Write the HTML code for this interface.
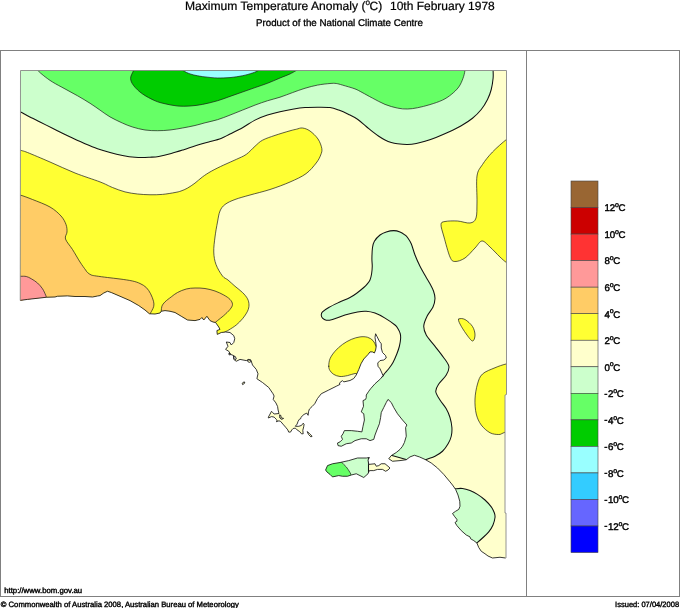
<!DOCTYPE html>
<html><head><meta charset="utf-8"><title>Maximum Temperature Anomaly</title>
<style>
html,body{margin:0;padding:0;background:#fff;}
body{width:680px;height:608px;overflow:hidden;position:relative;font-family:"Liberation Sans",Arial,sans-serif;}
svg{position:absolute;left:0;top:0;will-change:transform;}
text{font-family:"Liberation Sans",Arial,sans-serif;fill:#000;text-rendering:geometricPrecision;}
.ti{font-size:12px;stroke:#000;stroke-width:0.22px;}
.st{font-size:9.75px;stroke:#000;stroke-width:0.3px;}
.lg{font-size:9.7px;stroke:#000;stroke-width:0.42px;}
.ft{font-size:7.75px;stroke:#000;stroke-width:0.38px;}
</style></head><body>
<svg width="680" height="608" viewBox="0 0 680 608">
<rect x="0" y="0" width="680" height="608" fill="#fff"/>
<defs><clipPath id="land"><path d="M20.25 300.4 L27.5 299.4 L40 298 L46.25 297.25 L55 297 L57.5 296.25 L67.5 295.9 L75 296.5 L85 296.5 L92.5 297 L97.5 296 L100 295.6 L103.75 293 L107.5 291.25 L111.25 292.5 L120 296.25 L130 300.6 L138.75 305.6 L145 310 L149.4 313.75 L155 314 L160 313 L161.25 311.25 L165 310.6 L170 311.25 L175 312.5 L181.25 316.25 L187.5 320 L195 320.6 L200 319.4 L201.9 317.5 L203.75 320 L206.9 316.25 L210 320.6 L213 322 L215.6 322.5 L218.75 327 L220 329.4 L216.9 330.6 L217.25 334.4 L221.25 332.5 L225.6 332 L230 332.5 L233.75 335.6 L234.75 338.75 L233.75 342.5 L231.25 345 L230 342.5 L226.25 342 L228 346.25 L225.6 349.4 L228.75 351.25 L230.6 354.4 L233.75 355.6 L233.75 359.4 L236.25 361.25 L240 359.4 L246.25 360.6 L248.75 359.4 L251.25 361.25 L252.5 365 L256.25 369.4 L258 373.75 L256.9 378.75 L262.5 382.5 L268.75 387.5 L273 393.75 L274.1 396 L273.2 399.4 L275.9 402.9 L277.6 406.5 L278.1 410 L279 413.5 L274.1 414 L272.4 412.2 L271.5 411.3 L270.1 414 L268.4 417.1 L268.4 418 L271.5 416.6 L274.1 417.1 L276.3 419.3 L277.2 421 L276.3 421.7 L279 420.8 L280.7 421.5 L282.9 424.1 L285.6 427.2 L287.8 429.9 L288.7 432.1 L290.5 432.1 L291.8 429.9 L293.1 428.5 L295.3 428.1 L297.1 429.9 L299.7 431.6 L301.5 433.8 L303.2 433.8 L302.8 430.3 L303.7 426.8 L304.1 424.1 L303.2 423.2 L301.5 425.4 L298.8 426.3 L295.3 426.3 L297.1 424.1 L298 421.5 L299.3 419.3 L300.6 418.8 L301 417.5 L302.4 415.7 L304.1 414.4 L306.8 413.1 L308.1 415.3 L308.5 411.8 L309.4 409.1 L312.1 406.5 L314.7 403.8 L317.5 398.5 L321.25 393.75 L328.75 390 L336.25 386.25 L340 384.4 L339.4 383 L342.5 380.6 L343.75 381.9 L350 380.5 L353.75 378.5 L356.25 375 L358.75 369.5 L361 363.75 L363.75 359 L368 354.5 L370 351.9 L372.5 351.9 L374.4 353 L375.6 350 L376.25 346.25 L375.6 341.25 L375 337.5 L375.6 333.75 L376.9 336.25 L379.4 341.25 L381.25 343.75 L381.25 348 L382.5 352.5 L385.6 355.6 L386.25 358 L383.75 360 L380 360.6 L377.75 363 L378 366.25 L380 368.75 L381.9 373 L383 375.6 L380.6 378.75 L375 383.75 L370.6 388.75 L368.75 391.25 L366.25 395 L366.25 397.5 L365.6 399.4 L363 400.6 L363.5 406.25 L361.25 411.9 L363.75 413.75 L364.4 420 L363 426.25 L361.9 431.9 L357.5 431.25 L351.25 430.6 L344.4 430.6 L343 433.75 L341.25 436.25 L342.5 439.4 L340 441.9 L337.5 443 L338 445.6 L341.25 446.25 L346.25 443.75 L351.25 443 L355 440.6 L361.25 438.75 L366.25 438.75 L370 440.6 L373.75 439.4 L375 435 L376.9 430 L379.4 423.75 L380.6 417.5 L381.25 412.5 L383.75 407.5 L386.25 402.5 L388 399.4 L391.25 402.5 L393.75 407.5 L397.5 413.75 L402.5 420 L406.9 425 L405.6 427.5 L406.25 436.25 L404.4 442.5 L402.5 446.25 L400 449.4 L396.25 452.5 L391.25 455.6 L388.75 458.75 L392.5 461.25 L400 460.6 L406.25 459.75 L410 456.9 L414.4 455.25 L419.4 456.9 L425 459.4 L431.25 463 L437.5 468 L443.75 474.4 L450 481.9 L452.5 485 L455.6 489.4 L458 495 L459.75 501.25 L460 506.25 L458.75 509.4 L455.6 511.25 L452.5 513.5 L454.4 516.25 L456.9 519.4 L456.9 521.25 L455 522.5 L456.9 525.6 L461.25 530.6 L466.25 535 L470 536.9 L470.6 538.75 L473.75 540.6 L476.9 543 L478.75 547.5 L481.25 551.25 L485 553.75 L488 556 L492.5 558 L500 557.25 L505.5 558 L506 558 L506 513 L505 513 L505 395 L506.5 394.5 L506.5 70.5 L20.5 70.5 Z M242 384 L243 382.3 L244.8 382 L244.3 383.6 L242.6 384.6 Z M307.2 431.6 L309.4 433.4 L312.1 436.3 L310.9 436.9 L308.5 434.5 Z M233.6 356 L235.4 356.6 L236.3 359 L235 359.6 L233.8 358.2 Z M247.6 360 L250.5 359.6 L251.3 361.4 L249.4 362.4 L247.8 361.6 Z M228.8 353.4 L230.2 353.6 L230.4 354.8 L229 354.8 Z"/></clipPath><clipPath id="ki"><path d="M325.6 470 L327.5 465.6 L332.5 463.75 L340 462.5 L348.75 460.6 L357.5 458 L366.25 458 L369.4 457.5 L368 460 L368.75 464.4 L375 463.75 L376.25 466.25 L378.75 465.6 L381.25 463.75 L385 463.75 L388 466.25 L390 468 L388 470 L385.6 471.25 L382.5 469.4 L377.5 469.4 L373.75 470.6 L369.4 470.6 L368 473.75 L363.75 477.5 L360 475.6 L356.25 473.75 L351.25 475 L347.5 476.25 L342.5 476.25 L338.75 475.6 L332.5 476.9 L330 474.4 L326.9 471.9 Z"/></clipPath></defs>
<g clip-path="url(#land)" stroke-linejoin="round" stroke-linecap="round">
<rect x="0" y="60" width="520" height="510" fill="#ffffcc"/>
<path d="M8 105.5 C10.1 106.58 17.35 110.29 20.6 112 C23.85 113.71 24.27 114.08 27.5 115.75 C30.73 117.42 35.83 119.92 40 122 C44.17 124.08 48.33 126.17 52.5 128.25 C56.67 130.33 61.67 132.86 65 134.5 C68.33 136.14 69.17 136.56 72.5 138.1 C75.83 139.64 80.83 141.97 85 143.75 C89.17 145.53 93.33 147.29 97.5 148.75 C101.67 150.21 105.83 151.39 110 152.5 C114.17 153.61 118.33 154.61 122.5 155.4 C126.67 156.19 131.25 156.9 135 157.25 C138.75 157.6 142.5 157.5 145 157.5 C147.5 157.5 147.71 157.43 150 157.25 C152.29 157.07 155.21 157.03 158.75 156.4 C162.29 155.78 167.08 154.62 171.25 153.5 C175.42 152.38 179.58 151.03 183.75 149.7 C187.92 148.37 192.08 146.78 196.25 145.5 C200.42 144.22 204.62 143.18 208.75 142 C212.88 140.82 217.46 139.73 221 138.4 C224.54 137.07 226.42 135.78 230 134 C233.58 132.22 238.33 130.02 242.5 127.7 C246.67 125.38 250.83 122.2 255 120.1 C259.17 118 263.33 116.5 267.5 115.1 C271.67 113.7 275.83 112.67 280 111.7 C284.17 110.73 288.33 109.93 292.5 109.25 C296.67 108.57 300.83 107.93 305 107.6 C309.17 107.27 313.33 107.25 317.5 107.25 C321.67 107.25 326.46 107.12 330 107.6 C333.54 108.07 335.62 108.95 338.75 110.1 C341.88 111.25 345.62 112.97 348.75 114.5 C351.88 116.03 354.58 117.3 357.5 119.3 C360.42 121.3 363.75 124.43 366.25 126.5 C368.75 128.57 370.42 130.07 372.5 131.7 C374.58 133.32 376.67 134.87 378.75 136.25 C380.83 137.63 382.92 138.96 385 140 C387.08 141.04 389.17 141.88 391.25 142.5 C393.33 143.12 394.79 143.43 397.5 143.75 C400.21 144.07 404.38 144.44 407.5 144.4 C410.62 144.36 413.33 144.03 416.25 143.5 C419.17 142.97 421.71 142.27 425 141.25 C428.29 140.23 432.04 138.94 436 137.4 C439.96 135.86 444.54 133.94 448.75 132 C452.96 130.06 457.29 128.04 461.25 125.75 C465.21 123.46 469.17 120.96 472.5 118.25 C475.83 115.54 478.75 112.62 481.25 109.5 C483.75 106.38 485.83 102.83 487.5 99.5 C489.17 96.17 490.32 93.04 491.25 89.5 C492.18 85.96 492.79 81.5 493.1 78.25 C493.41 75 493.12 73.38 493.1 70 C493.08 66.62 493.02 60 493 58 L493 50 L8 50 Z" fill="#ccffcc" stroke="#111" stroke-width="1.05"/>
<path d="M31 62 C32.08 63.35 35.38 67.81 37.5 70.1 C39.62 72.39 41.25 73.77 43.75 75.75 C46.25 77.73 48.96 79.81 52.5 82 C56.04 84.19 60.83 86.61 65 88.9 C69.17 91.19 73.33 93.36 77.5 95.75 C81.67 98.14 86.25 100.86 90 103.25 C93.75 105.64 96.67 107.82 100 110.1 C103.33 112.38 106.25 114.73 110 116.9 C113.75 119.07 118.75 121.42 122.5 123.1 C126.25 124.78 128.75 125.85 132.5 127 C136.25 128.15 140.83 129.38 145 130 C149.17 130.62 153.33 130.7 157.5 130.7 C161.67 130.7 165.83 130.45 170 130 C174.17 129.55 178.33 128.75 182.5 128 C186.67 127.25 191.25 126.37 195 125.5 C198.75 124.63 201.25 123.77 205 122.8 C208.75 121.83 213.33 120.98 217.5 119.7 C221.67 118.42 225.83 116.7 230 115.1 C234.17 113.5 238.33 111.77 242.5 110.1 C246.67 108.43 250.83 106.66 255 105.1 C259.17 103.54 263.33 102.07 267.5 100.75 C271.67 99.43 275.83 98.56 280 97.2 C284.17 95.84 288.33 94.09 292.5 92.6 C296.67 91.11 300.83 89.5 305 88.25 C309.17 87 313.33 85.89 317.5 85.1 C321.67 84.31 326.88 83.77 330 83.5 C333.12 83.23 334.17 83.23 336.25 83.5 C338.33 83.77 339.38 84.2 342.5 85.1 C345.62 86 351.75 87.68 355 88.9 C358.25 90.12 359.08 90.87 362 92.4 C364.92 93.93 368.67 96.1 372.5 98.1 C376.33 100.1 380.83 102.73 385 104.4 C389.17 106.07 393.75 107.33 397.5 108.1 C401.25 108.87 404.17 109.06 407.5 109 C410.83 108.94 413.75 108.48 417.5 107.75 C421.25 107.02 425.83 105.88 430 104.6 C434.17 103.32 438.96 101.78 442.5 100.1 C446.04 98.42 448.54 96.68 451.25 94.5 C453.96 92.32 456.79 89.71 458.75 87 C460.71 84.29 461.96 81.07 463 78.25 C464.04 75.43 464.5 73.47 465 70.1 C465.5 66.72 465.83 60.02 466 58 L466 50 L31 50 Z" fill="#66ff66" stroke="#1a1a1a" stroke-width="0.7"/>
<path d="M139 58 C138.12 60.02 135.15 66.72 133.75 70.1 C132.35 73.47 130.6 75.64 130.6 78.25 C130.6 80.86 131.77 83.14 133.75 85.75 C135.73 88.36 138.96 91.4 142.5 93.9 C146.04 96.4 151.25 99.11 155 100.75 C158.75 102.39 161.25 102.88 165 103.75 C168.75 104.62 173.33 105.62 177.5 106 C181.67 106.38 185.83 106.27 190 106 C194.17 105.73 197.92 105.28 202.5 104.4 C207.08 103.53 212.92 102.08 217.5 100.75 C222.08 99.42 225.83 97.86 230 96.4 C234.17 94.94 238.33 93.47 242.5 92 C246.67 90.53 250.83 89.06 255 87.6 C259.17 86.14 263.33 84.85 267.5 83.25 C271.67 81.65 276.25 79.56 280 78 C283.75 76.44 287.18 75.22 290 73.9 C292.82 72.58 292.9 72.42 296.9 70.1 C300.9 67.78 311.15 61.68 314 60 L314 50 L139 50 Z" fill="#00cc00" stroke="#1a1a1a" stroke-width="0.7"/>
<path d="M170 60 C172.08 61.68 179.17 67.78 182.5 70.1 C185.83 72.42 187.5 72.96 190 73.9 C192.5 74.84 195 75.25 197.5 75.75 C200 76.25 201.67 76.53 205 76.9 C208.33 77.28 213.33 77.88 217.5 78 C221.67 78.12 225.83 77.97 230 77.6 C234.17 77.22 238.75 76.52 242.5 75.75 C246.25 74.98 249.79 73.94 252.5 73 C255.21 72.06 255.83 71.93 258.75 70.1 C261.67 68.27 268.12 63.35 270 62 L270 50 L170 50 Z" fill="#99ffff" stroke="#1a1a1a" stroke-width="0.7"/>
<path d="M8 145 C10 145.83 16.75 148.75 20 150 C23.25 151.25 22.5 150.5 27.5 152.5 C32.5 154.5 42.08 158.58 50 162 C57.92 165.42 66.67 169.68 75 173 C83.33 176.32 93.75 179.48 100 181.9 C106.25 184.32 108.33 185.83 112.5 187.5 C116.67 189.17 120.83 190.82 125 191.9 C129.17 192.98 133.33 193.53 137.5 194 C141.67 194.47 145.83 194.68 150 194.75 C154.17 194.82 158.33 194.78 162.5 194.4 C166.67 194.03 171.92 193.07 175 192.5 C178.08 191.93 178.92 191.73 181 191 C183.08 190.27 185.17 189.42 187.5 188.1 C189.83 186.78 192.5 184.97 195 183.1 C197.5 181.23 199.79 178.88 202.5 176.9 C205.21 174.93 207.71 173.23 211.25 171.25 C214.79 169.27 219.58 166.97 223.75 165 C227.92 163.03 232.5 161.17 236.25 159.4 C240 157.63 243.12 156.59 246.25 154.4 C249.38 152.21 252.29 148.62 255 146.25 C257.71 143.88 259.17 142.01 262.5 140.2 C265.83 138.39 270.42 136.97 275 135.4 C279.58 133.83 286.42 131.83 290 130.8 C293.58 129.77 294.42 129.67 296.5 129.2 C298.58 128.73 300.25 127.7 302.5 128 C304.75 128.3 307.42 129.17 310 131 C312.58 132.83 316.03 136.08 318 139 C319.97 141.92 321.35 145.83 321.8 148.5 C322.25 151.17 321.63 152.58 320.7 155 C319.77 157.42 318.65 159.88 316.2 163 C313.75 166.12 310.37 170.53 306 173.7 C301.63 176.87 296 179.37 290 182 C284 184.63 276.67 187.33 270 189.5 C263.33 191.67 255.83 193.33 250 195 C244.17 196.67 239.17 197.92 235 199.5 C230.83 201.08 227.5 202.58 225 204.5 C222.5 206.42 221.25 208.08 220 211 C218.75 213.92 218.33 217.67 217.5 222 C216.67 226.33 215.62 232 215 237 C214.38 242 213.58 247.42 213.75 252 C213.92 256.58 214.54 260.5 216 264.5 C217.46 268.5 220.5 273.42 222.5 276 C224.5 278.58 225.92 278.29 228 280 C230.08 281.71 232.58 284.17 235 286.25 C237.42 288.33 240.42 290.42 242.5 292.5 C244.58 294.58 246.42 296.67 247.5 298.75 C248.58 300.83 249 302.92 249 305 C249 307.08 248.58 308.96 247.5 311.25 C246.42 313.54 244.38 316.46 242.5 318.75 C240.62 321.04 238.54 323.12 236.25 325 C233.96 326.88 230.62 328.83 228.75 330 C226.88 331.17 227.46 330.67 225 332 C222.54 333.33 215.83 337 214 338 L214 345 L8 345 Z" fill="#ffff33" stroke="#1a1a1a" stroke-width="0.7"/>
<path d="M8 192.5 C10 192.92 15.92 193.83 20 195 C24.08 196.17 27.5 197.5 32.5 199.5 C37.5 201.5 45.25 204.25 50 207 C54.75 209.75 58.33 213.08 61 216 C63.67 218.92 65 221.83 66 224.5 C67 227.17 67.08 229.58 67 232 C66.92 234.42 64.58 236.08 65.5 239 C66.42 241.92 70.08 245.67 72.5 249.5 C74.92 253.33 77.82 258.58 80 262 C82.18 265.42 84.35 268.25 85.6 270 C86.85 271.75 86.56 271.67 87.5 272.5 C88.44 273.33 89.79 274.42 91.25 275 C92.71 275.58 93.54 275.58 96.25 276 C98.96 276.42 103.54 277 107.5 277.5 C111.46 278 115.83 278.42 120 279 C124.17 279.58 129.17 280.25 132.5 281 C135.83 281.75 137.71 282.42 140 283.5 C142.29 284.58 144.48 285.79 146.25 287.5 C148.02 289.21 149.39 291.46 150.6 293.75 C151.81 296.04 152.97 299.17 153.5 301.25 C154.03 303.33 154.02 304.69 153.75 306.25 C153.48 307.81 152.53 309.31 151.9 310.6 C151.28 311.89 150.82 312.27 150 314 C149.18 315.73 147.5 319.83 147 321 L147 330 L8 330 Z" fill="#ffcc66" stroke="#1a1a1a" stroke-width="0.7"/>
<path d="M8 276 C10 276.04 16.96 276.17 20 276.25 C23.04 276.33 24.38 276.08 26.25 276.5 C28.12 276.92 29.38 277.67 31.25 278.75 C33.12 279.83 35.62 281.33 37.5 283 C39.38 284.67 41.15 286.75 42.5 288.75 C43.85 290.75 44.98 293.58 45.6 295 C46.23 296.42 46.08 295.75 46.25 297.25 C46.42 298.75 46.54 302.88 46.6 304 L46.6 310 L8 310 Z" fill="#ff9999" stroke="#1a1a1a" stroke-width="0.7"/>
<path d="M160 319 C160.21 317.71 160.93 313.38 161.25 311.25 C161.57 309.12 161.28 307.81 161.9 306.25 C162.53 304.69 163.44 303.46 165 301.9 C166.56 300.34 169.17 298.47 171.25 296.9 C173.33 295.33 175 293.82 177.5 292.5 C180 291.18 183.33 289.75 186.25 289 C189.17 288.25 191.88 288.08 195 288 C198.12 287.92 201.67 288 205 288.5 C208.33 289 211.88 289.92 215 291 C218.12 292.08 221.25 293.6 223.75 295 C226.25 296.4 228.54 297.83 230 299.4 C231.46 300.97 232.5 302.73 232.5 304.4 C232.5 306.07 231.46 307.53 230 309.4 C228.54 311.27 225.83 313.73 223.75 315.6 C221.67 317.47 219.62 318.87 217.5 320.6 C215.38 322.33 212.08 325.1 211 326 L211 332 L160 332 Z" fill="#ffcc66" stroke="#1a1a1a" stroke-width="0.7"/>
<path d="M520 130 C517.83 131.5 511.58 135.33 507 139 C502.42 142.67 496.58 147.75 492.5 152 C488.42 156.25 485.08 160.5 482.5 164.5 C479.92 168.5 477.92 169.75 477 176 C476.08 182.25 477.17 195 477 202 C476.83 209 477.17 214.5 476 218 C474.83 221.5 473.08 222.5 470 223 C466.92 223.5 461.67 221.25 457.5 221 C453.33 220.75 447.75 220.92 445 221.5 C442.25 222.08 441.17 221.92 441 224.5 C440.83 227.08 442.5 231.58 444 237 C445.5 242.42 448.17 252.92 450 257 C451.83 261.08 452.5 261.33 455 261.5 C457.5 261.67 461.67 260.25 465 258 C468.33 255.75 472.17 250.83 475 248 C477.83 245.17 479.5 241.17 482 241 C484.5 240.83 487 244.33 490 247 C493 249.67 497.17 254.33 500 257 C502.83 259.67 503.67 260.5 507 263 C510.33 265.5 517.83 270.5 520 272 Z" fill="#ffff33" stroke="#1a1a1a" stroke-width="0.7"/>
<path d="M520 361 C517.67 361.5 510.17 362.88 506 364 C501.83 365.12 498.92 366.08 495 367.75 C491.08 369.42 485.42 371.29 482.5 374 C479.58 376.71 478.75 379.83 477.5 384 C476.25 388.17 475.21 394 475 399 C474.79 404 475.21 409.67 476.25 414 C477.29 418.33 478.96 421.88 481.25 425 C483.54 428.12 487.08 431.17 490 432.75 C492.92 434.33 496.46 434.5 498.75 434.5 C501.04 434.5 500.21 434.17 503.75 432.75 C507.29 431.33 517.29 427.12 520 426 Z" fill="#ffff33" stroke="#1a1a1a" stroke-width="0.7"/>
<path d="M458.75 319 C459.58 318.25 462.71 318.25 465 319.5 C467.29 320.75 470.83 323.92 472.5 326.5 C474.17 329.08 475 332.58 475 335 C475 337.42 473.96 341.17 472.5 341 C471.04 340.83 468.33 336.83 466.25 334 C464.17 331.17 461.25 326.5 460 324 C458.75 321.5 457.92 319.75 458.75 319 Z" fill="#ffff33" stroke="#1a1a1a" stroke-width="0.7"/>
<path d="M383 376 C383.23 375.62 383.44 374.96 384.4 373.75 C385.36 372.54 387.32 370.62 388.75 368.75 C390.18 366.88 391.64 365 393 362.5 C394.36 360 395.83 356.46 396.9 353.75 C397.97 351.04 398.78 348.75 399.4 346.25 C400.02 343.75 400.46 340.83 400.6 338.75 C400.74 336.67 400.68 335.42 400.25 333.75 C399.82 332.08 398.88 330.21 398 328.75 C397.12 327.29 397.17 326.77 395 325 C392.83 323.23 388.33 320.08 385 318.1 C381.67 316.12 378.12 314.24 375 313.1 C371.88 311.96 369.17 311.45 366.25 311.25 C363.33 311.05 361.04 311.27 357.5 311.9 C353.96 312.52 349.17 313.75 345 315 C340.83 316.25 335.62 318.52 332.5 319.4 C329.38 320.27 327.92 320.47 326.25 320.25 C324.58 320.03 323.33 318.98 322.5 318.1 C321.67 317.23 321.25 316.03 321.25 315 C321.25 313.97 321.25 313.15 322.5 311.9 C323.75 310.65 326.04 309.07 328.75 307.5 C331.46 305.93 335.21 304.17 338.75 302.5 C342.29 300.83 346.96 299.08 350 297.5 C353.04 295.92 354.71 294.67 357 293 C359.29 291.33 362.1 288.93 363.75 287.5 C365.4 286.07 365.86 285.65 366.9 284.4 C367.94 283.15 369.22 281.77 370 280 C370.78 278.23 371.23 276.04 371.6 273.75 C371.98 271.46 372.2 268.75 372.25 266.25 C372.3 263.75 371.86 261.88 371.9 258.75 C371.94 255.62 372.08 250.42 372.5 247.5 C372.92 244.58 373.15 243.33 374.4 241.25 C375.65 239.17 378.02 236.56 380 235 C381.98 233.44 383.96 232.63 386.25 231.9 C388.54 231.17 391.46 230.6 393.75 230.6 C396.04 230.6 398.12 231.17 400 231.9 C401.88 232.63 403.75 234.07 405 235 C406.25 235.93 406.46 236.04 407.5 237.5 C408.54 238.96 410 240.83 411.25 243.75 C412.5 246.67 413.54 251.25 415 255 C416.46 258.75 418.12 262.5 420 266.25 C421.88 270 424.58 274.58 426.25 277.5 C427.92 280.42 428.79 281.5 430 283.75 C431.21 286 432.67 288.54 433.5 291 C434.33 293.46 435.08 295.83 435 298.5 C434.92 301.17 434.28 304.12 433 307 C431.72 309.88 428.84 312.63 427.3 315.8 C425.76 318.97 423.93 322.8 423.75 326 C423.57 329.2 424.46 331.73 426.25 335 C428.04 338.27 431.64 341.9 434.5 345.6 C437.36 349.3 441 353.72 443.4 357.2 C445.8 360.68 448.42 363.53 448.9 366.5 C449.38 369.47 447.94 372.08 446.25 375 C444.56 377.92 440.5 381.25 438.75 384 C437 386.75 435.54 388.83 435.75 391.5 C435.96 394.17 438.25 397.12 440 400 C441.75 402.88 444.58 405.83 446.25 408.75 C447.92 411.67 449.06 414.38 450 417.5 C450.94 420.62 451.69 424.38 451.9 427.5 C452.11 430.62 451.88 433.54 451.25 436.25 C450.62 438.96 449.56 441.25 448.1 443.75 C446.64 446.25 444.68 449.17 442.5 451.25 C440.32 453.33 437.71 454.88 435 456.25 C432.29 457.62 429.08 458.38 426.25 459.5 C423.42 460.62 419.38 462.42 418 463 L418 470 L330 470 L330 430 L340 400 L357 386 L366 380.5 L374 378.2 L380 378 Z" fill="#ccffcc" stroke="#111" stroke-width="1.05"/>
<path d="M328.75 366.25 C328.75 364.27 328.96 361.25 330 358.75 C331.04 356.25 332.92 353.64 335 351.25 C337.08 348.86 339.79 346.38 342.5 344.4 C345.21 342.42 348.33 340.65 351.25 339.4 C354.17 338.15 357.29 337.26 360 336.9 C362.71 336.54 365.33 336.63 367.5 337.25 C369.67 337.87 371.58 339.1 373 340.6 C374.42 342.1 375.17 344.18 376 346.25 C376.83 348.32 378.5 350.71 378 353 C377.5 355.29 375 357.5 373 360 C371 362.5 368.17 365.67 366 368 C363.83 370.33 361.83 373.08 360 374 C358.17 374.92 357.08 373.23 355 373.5 C352.92 373.77 350 375.1 347.5 375.6 C345 376.1 342.29 376.7 340 376.5 C337.71 376.3 335.42 375.38 333.75 374.4 C332.08 373.42 330.83 371.96 330 370.6 C329.17 369.24 328.75 368.23 328.75 366.25 Z" fill="#ffff33" stroke="#1a1a1a" stroke-width="0.7"/>
<path d="M448 490 C449.27 489.79 453.18 489 455.6 488.75 C458.02 488.5 460.1 488.19 462.5 488.5 C464.9 488.81 467.5 489.62 470 490.6 C472.5 491.58 475 492.83 477.5 494.4 C480 495.97 482.71 497.92 485 500 C487.29 502.08 489.68 504.73 491.25 506.9 C492.82 509.07 493.77 511.23 494.4 513 C495.02 514.77 495.23 515.5 495 517.5 C494.77 519.5 494.04 522.6 493 525 C491.96 527.4 490.5 529.73 488.75 531.9 C487 534.07 484.48 536.17 482.5 538 C480.52 539.83 479.15 541.07 476.9 542.9 C474.65 544.73 470.32 547.98 469 549 L469 556 L440 556 L440 490 Z" fill="#ccffcc" stroke="#111" stroke-width="1.05"/>
<path d="M384 453.4 L392 455.6 L400 457.8 L407 459.75 L414 461.5 L414 468 L384 468 Z" fill="#ffffcc" stroke="#111" stroke-width="1.05"/>
</g>
<g clip-path="url(#ki)" stroke-linejoin="round">
<rect x="320" y="454" width="48.5" height="28" fill="#ccffcc"/>
<rect x="368.5" y="454" width="30" height="28" fill="#ffffcc"/>
<path d="M368.5 454 V482" fill="none" stroke="#111" stroke-width="1.05"/>
<path d="M340.5 458 C340.73 458.75 340.94 461.02 341.9 462.5 C342.86 463.98 344.9 465.23 346.25 466.9 C347.6 468.57 349.17 471.05 350 472.5 C350.83 473.95 350.92 474.35 351.25 475.6 C351.58 476.85 351.88 479.27 352 480 L320 480 L320 455 Z" fill="#66ff66" stroke="#1a1a1a" stroke-width="0.7"/>
</g>
<path d="M20.25 300.4 L27.5 299.4 L40 298 L46.25 297.25 L55 297 L57.5 296.25 L67.5 295.9 L75 296.5 L85 296.5 L92.5 297 L97.5 296 L100 295.6 L103.75 293 L107.5 291.25 L111.25 292.5 L120 296.25 L130 300.6 L138.75 305.6 L145 310 L149.4 313.75 L155 314 L160 313 L161.25 311.25 L165 310.6 L170 311.25 L175 312.5 L181.25 316.25 L187.5 320 L195 320.6 L200 319.4 L201.9 317.5 L203.75 320 L206.9 316.25 L210 320.6 L213 322 L215.6 322.5 L218.75 327 L220 329.4 L216.9 330.6 L217.25 334.4 L221.25 332.5 L225.6 332 L230 332.5 L233.75 335.6 L234.75 338.75 L233.75 342.5 L231.25 345 L230 342.5 L226.25 342 L228 346.25 L225.6 349.4 L228.75 351.25 L230.6 354.4 L233.75 355.6 L233.75 359.4 L236.25 361.25 L240 359.4 L246.25 360.6 L248.75 359.4 L251.25 361.25 L252.5 365 L256.25 369.4 L258 373.75 L256.9 378.75 L262.5 382.5 L268.75 387.5 L273 393.75 L274.1 396 L273.2 399.4 L275.9 402.9 L277.6 406.5 L278.1 410 L279 413.5 L274.1 414 L272.4 412.2 L271.5 411.3 L270.1 414 L268.4 417.1 L268.4 418 L271.5 416.6 L274.1 417.1 L276.3 419.3 L277.2 421 L276.3 421.7 L279 420.8 L280.7 421.5 L282.9 424.1 L285.6 427.2 L287.8 429.9 L288.7 432.1 L290.5 432.1 L291.8 429.9 L293.1 428.5 L295.3 428.1 L297.1 429.9 L299.7 431.6 L301.5 433.8 L303.2 433.8 L302.8 430.3 L303.7 426.8 L304.1 424.1 L303.2 423.2 L301.5 425.4 L298.8 426.3 L295.3 426.3 L297.1 424.1 L298 421.5 L299.3 419.3 L300.6 418.8 L301 417.5 L302.4 415.7 L304.1 414.4 L306.8 413.1 L308.1 415.3 L308.5 411.8 L309.4 409.1 L312.1 406.5 L314.7 403.8 L317.5 398.5 L321.25 393.75 L328.75 390 L336.25 386.25 L340 384.4 L339.4 383 L342.5 380.6 L343.75 381.9 L350 380.5 L353.75 378.5 L356.25 375 L358.75 369.5 L361 363.75 L363.75 359 L368 354.5 L370 351.9 L372.5 351.9 L374.4 353 L375.6 350 L376.25 346.25 L375.6 341.25 L375 337.5 L375.6 333.75 L376.9 336.25 L379.4 341.25 L381.25 343.75 L381.25 348 L382.5 352.5 L385.6 355.6 L386.25 358 L383.75 360 L380 360.6 L377.75 363 L378 366.25 L380 368.75 L381.9 373 L383 375.6 L380.6 378.75 L375 383.75 L370.6 388.75 L368.75 391.25 L366.25 395 L366.25 397.5 L365.6 399.4 L363 400.6 L363.5 406.25 L361.25 411.9 L363.75 413.75 L364.4 420 L363 426.25 L361.9 431.9 L357.5 431.25 L351.25 430.6 L344.4 430.6 L343 433.75 L341.25 436.25 L342.5 439.4 L340 441.9 L337.5 443 L338 445.6 L341.25 446.25 L346.25 443.75 L351.25 443 L355 440.6 L361.25 438.75 L366.25 438.75 L370 440.6 L373.75 439.4 L375 435 L376.9 430 L379.4 423.75 L380.6 417.5 L381.25 412.5 L383.75 407.5 L386.25 402.5 L388 399.4 L391.25 402.5 L393.75 407.5 L397.5 413.75 L402.5 420 L406.9 425 L405.6 427.5 L406.25 436.25 L404.4 442.5 L402.5 446.25 L400 449.4 L396.25 452.5 L391.25 455.6 L388.75 458.75 L392.5 461.25 L400 460.6 L406.25 459.75 L410 456.9 L414.4 455.25 L419.4 456.9 L425 459.4 L431.25 463 L437.5 468 L443.75 474.4 L450 481.9 L452.5 485 L455.6 489.4 L458 495 L459.75 501.25 L460 506.25 L458.75 509.4 L455.6 511.25 L452.5 513.5 L454.4 516.25 L456.9 519.4 L456.9 521.25 L455 522.5 L456.9 525.6 L461.25 530.6 L466.25 535 L470 536.9 L470.6 538.75 L473.75 540.6 L476.9 543 L478.75 547.5 L481.25 551.25 L485 553.75 L488 556 L492.5 558 L500 557.25 L505.5 558" fill="none" stroke="#151515" stroke-width="0.85" stroke-linejoin="round"/>
<path d="M325.6 470 L327.5 465.6 L332.5 463.75 L340 462.5 L348.75 460.6 L357.5 458 L366.25 458 L369.4 457.5 L368 460 L368.75 464.4 L375 463.75 L376.25 466.25 L378.75 465.6 L381.25 463.75 L385 463.75 L388 466.25 L390 468 L388 470 L385.6 471.25 L382.5 469.4 L377.5 469.4 L373.75 470.6 L369.4 470.6 L368 473.75 L363.75 477.5 L360 475.6 L356.25 473.75 L351.25 475 L347.5 476.25 L342.5 476.25 L338.75 475.6 L332.5 476.9 L330 474.4 L326.9 471.9 Z" fill="none" stroke="#151515" stroke-width="0.85" stroke-linejoin="round"/>
<path d="M242 384 L243 382.3 L244.8 382 L244.3 383.6 L242.6 384.6 Z M307.2 431.6 L309.4 433.4 L312.1 436.3 L310.9 436.9 L308.5 434.5 Z M233.6 356 L235.4 356.6 L236.3 359 L235 359.6 L233.8 358.2 Z M247.6 360 L250.5 359.6 L251.3 361.4 L249.4 362.4 L247.8 361.6 Z M228.8 353.4 L230.2 353.6 L230.4 354.8 L229 354.8 Z" fill="none" stroke="#151515" stroke-width="0.85" stroke-linejoin="round"/>
<path d="M279.6 414.8 L281 415.6 L281 417.8 L283.6 418.4 L281.6 419.4 L279.8 418 Z" fill="none" stroke="#151515" stroke-width="0.85" stroke-linejoin="round"/>
<path d="M505.5 558 L506 558 L506 513 L505 513 L505 395 L506.5 394.5 L506.5 70.5 L20.5 70.5 L20.25 300.4" fill="none" stroke="#888" stroke-width="0.9"/>
<g fill="none" stroke="#808080" stroke-width="1" shape-rendering="crispEdges">
<line x1="0" y1="50.5" x2="680" y2="50.5"/>
<line x1="0" y1="596.5" x2="680" y2="596.5"/>
<line x1="0.5" y1="50" x2="0.5" y2="597"/>
<line x1="679.5" y1="50" x2="679.5" y2="597"/>
<line x1="526.5" y1="50" x2="526.5" y2="597"/>
</g>
<rect x="571" y="181.00" width="27" height="26.54" fill="#996633" stroke="#444" stroke-width="0.6"/>
<rect x="571" y="207.54" width="27" height="26.54" fill="#cc0000" stroke="#444" stroke-width="0.6"/>
<text x="604.4" y="211.39" class="lg">12<tspan dy="-4.2" dx="-0.1" font-size="7">o</tspan><tspan dy="4.2" dx="-0.45">C</tspan></text>
<rect x="571" y="234.08" width="27" height="26.54" fill="#ff3333" stroke="#444" stroke-width="0.6"/>
<text x="604.4" y="237.93" class="lg">10<tspan dy="-4.2" dx="-0.1" font-size="7">o</tspan><tspan dy="4.2" dx="-0.45">C</tspan></text>
<rect x="571" y="260.62" width="27" height="26.54" fill="#ff9999" stroke="#444" stroke-width="0.6"/>
<text x="604.4" y="264.47" class="lg">8<tspan dy="-4.2" dx="-0.1" font-size="7">o</tspan><tspan dy="4.2" dx="-0.45">C</tspan></text>
<rect x="571" y="287.16" width="27" height="26.54" fill="#ffcc66" stroke="#444" stroke-width="0.6"/>
<text x="604.4" y="291.01" class="lg">6<tspan dy="-4.2" dx="-0.1" font-size="7">o</tspan><tspan dy="4.2" dx="-0.45">C</tspan></text>
<rect x="571" y="313.70" width="27" height="26.54" fill="#ffff33" stroke="#444" stroke-width="0.6"/>
<text x="604.4" y="317.55" class="lg">4<tspan dy="-4.2" dx="-0.1" font-size="7">o</tspan><tspan dy="4.2" dx="-0.45">C</tspan></text>
<rect x="571" y="340.24" width="27" height="26.54" fill="#ffffcc" stroke="#444" stroke-width="0.6"/>
<text x="604.4" y="344.09" class="lg">2<tspan dy="-4.2" dx="-0.1" font-size="7">o</tspan><tspan dy="4.2" dx="-0.45">C</tspan></text>
<rect x="571" y="366.78" width="27" height="26.54" fill="#ccffcc" stroke="#444" stroke-width="0.6"/>
<text x="604.4" y="370.63" class="lg">0<tspan dy="-4.2" dx="-0.1" font-size="7">o</tspan><tspan dy="4.2" dx="-0.45">C</tspan></text>
<rect x="571" y="393.32" width="27" height="26.54" fill="#66ff66" stroke="#444" stroke-width="0.6"/>
<text x="604.2" y="397.17" class="lg"><tspan dy="-0.5">-</tspan><tspan dy="0.5" dx="0.5">2</tspan><tspan dy="-4.2" dx="-0.1" font-size="7">o</tspan><tspan dy="4.2" dx="-0.45">C</tspan></text>
<rect x="571" y="419.86" width="27" height="26.54" fill="#00cc00" stroke="#444" stroke-width="0.6"/>
<text x="604.2" y="423.71" class="lg"><tspan dy="-0.5">-</tspan><tspan dy="0.5" dx="0.5">4</tspan><tspan dy="-4.2" dx="-0.1" font-size="7">o</tspan><tspan dy="4.2" dx="-0.45">C</tspan></text>
<rect x="571" y="446.40" width="27" height="26.54" fill="#99ffff" stroke="#444" stroke-width="0.6"/>
<text x="604.2" y="450.25" class="lg"><tspan dy="-0.5">-</tspan><tspan dy="0.5" dx="0.5">6</tspan><tspan dy="-4.2" dx="-0.1" font-size="7">o</tspan><tspan dy="4.2" dx="-0.45">C</tspan></text>
<rect x="571" y="472.94" width="27" height="26.54" fill="#33ccff" stroke="#444" stroke-width="0.6"/>
<text x="604.2" y="476.79" class="lg"><tspan dy="-0.5">-</tspan><tspan dy="0.5" dx="0.5">8</tspan><tspan dy="-4.2" dx="-0.1" font-size="7">o</tspan><tspan dy="4.2" dx="-0.45">C</tspan></text>
<rect x="571" y="499.48" width="27" height="26.54" fill="#6666ff" stroke="#444" stroke-width="0.6"/>
<text x="604.2" y="503.33" class="lg"><tspan dy="-0.5">-</tspan><tspan dy="0.5" dx="0.5">10</tspan><tspan dy="-4.2" dx="-0.1" font-size="7">o</tspan><tspan dy="4.2" dx="-0.45">C</tspan></text>
<rect x="571" y="526.02" width="27" height="26.54" fill="#0000ff" stroke="#444" stroke-width="0.6"/>
<text x="604.2" y="529.87" class="lg"><tspan dy="-0.5">-</tspan><tspan dy="0.5" dx="0.5">12</tspan><tspan dy="-4.2" dx="-0.1" font-size="7">o</tspan><tspan dy="4.2" dx="-0.45">C</tspan></text>
<text x="184.9" y="9.8" class="ti" style="font-size:12.1px">Maximum Temperature Anomaly (</text>
<text x="365.4" y="5.1" class="ti" style="font-size:8.2px">o</text>
<text x="369.5" y="9.8" class="ti">C)</text>
<text x="390.0" y="9.8" class="ti">10th February 1978</text>
<text x="256" y="26.3" class="st" textLength="167" lengthAdjust="spacingAndGlyphs">Product of the National Climate Centre</text>
<text x="4.2" y="592.7" class="ft" textLength="78" lengthAdjust="spacingAndGlyphs">http://www.bom.gov.au</text>
<text x="0.8" y="606.6" class="ft" textLength="238" lengthAdjust="spacingAndGlyphs">© Commonwealth of Australia 2008, Australian Bureau of Meteorology</text>
<text x="615.1" y="607.3" class="ft" textLength="64" lengthAdjust="spacingAndGlyphs">Issued: 07/04/2008</text>
</svg>
</body></html>
